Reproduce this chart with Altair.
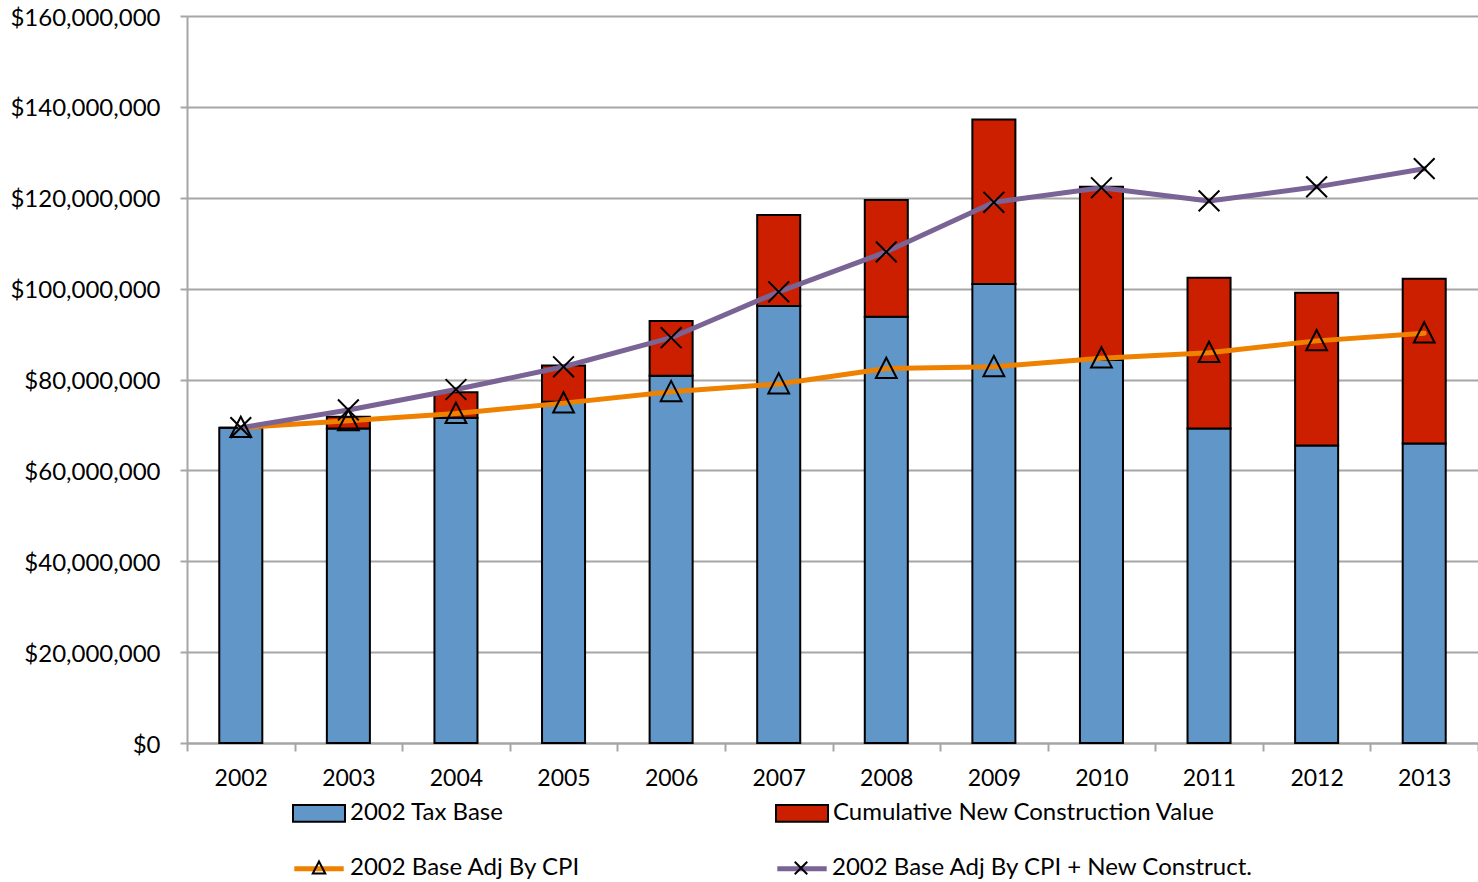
import altair as alt
import pandas as pd

# Fiscal years on the category axis
years = [str(y) for y in range(2002, 2014)]

# Stacked bar components (dollars)
tax_base = [69_400_000, 69_200_000, 71_600_000, 75_100_000, 80_800_000, 96_200_000,
            93_800_000, 101_000_000, 84_300_000, 69_200_000, 65_500_000, 65_900_000]
new_construction = [0, 2_600_000, 5_600_000, 8_000_000, 12_100_000, 20_000_000,
                    25_700_000, 36_200_000, 38_100_000, 33_200_000, 33_600_000, 36_300_000]

# Line series (dollars)
cpi_adjusted = [69_400_000, 70_900_000, 72_500_000, 74_800_000, 77_300_000, 79_000_000,
                82_400_000, 82_800_000, 84_700_000, 85_900_000, 88_500_000, 90_200_000]
cpi_plus_construction = [69_400_000, 73_300_000, 77_800_000, 82_800_000, 89_200_000, 99_300_000,
                         108_100_000, 119_000_000, 122_200_000, 119_300_000, 122_400_000, 126_400_000]

bar_names = ["2002 Tax Base", "Cumulative New Construction Value"]
line_names = ["2002 Base Adj By CPI", "2002 Base Adj By CPI + New Construct."]
marker_keys = ["cpi", "cpi_nc"]

bars = pd.DataFrame(
    [{"year": y, "series": bar_names[0], "value": b, "order": 0} for y, b in zip(years, tax_base)]
    + [{"year": y, "series": bar_names[1], "value": n, "order": 1} for y, n in zip(years, new_construction)]
)
lines = pd.DataFrame(
    [{"year": y, "line": line_names[0], "marker": marker_keys[0], "value": v} for y, v in zip(years, cpi_adjusted)]
    + [{"year": y, "line": line_names[1], "marker": marker_keys[1], "value": v} for y, v in zip(years, cpi_plus_construction)]
)

FONT = "Lato"
GRID = "#A6A6A6"
SYM = 2704        # legend symbol area -> 52 px wide
MARK_SYM = 973    # smaller markers inside the line legend

x_axis = alt.Axis(title=None, labelAngle=0, tickBand="extent", tickSize=8,
                  tickColor=GRID, tickWidth=2, domainColor=GRID, domainWidth=2,
                  labelPadding=16, grid=False)
y_axis = alt.Axis(title=None, format="$,.0f",
                  values=list(range(0, 160_000_001, 20_000_000)),
                  tickSize=7, tickColor=GRID, tickWidth=2,
                  domainColor=GRID, domainWidth=2,
                  gridColor=GRID, gridWidth=2, labelPadding=20, labelFontSize=24,
                  labelOffset=2)
x_scale = alt.Scale(paddingInner=0, paddingOuter=0)
y_scale = alt.Scale(domain=[0, 160_000_000], nice=False)

bar_layer = alt.Chart(bars).mark_bar(
    stroke="black", strokeWidth=2, width=alt.RelativeBandSize(0.4)
).encode(
    x=alt.X("year:O", scale=x_scale, axis=x_axis),
    y=alt.Y("value:Q", stack="zero", scale=y_scale, axis=y_axis),
    color=alt.Color(
        "series:N",
        scale=alt.Scale(domain=bar_names, range=["#6196C9", "#CC1F00"]),
        legend=alt.Legend(
            title=None, orient="none", legendX=105, legendY=770, direction="horizontal",
            columns=2, columnPadding=268, padding=0, labelLimit=800, labelOffset=4,
            symbolType="M-1,-0.32H1V0.32H-1Z", symbolSize=SYM,
            symbolStrokeColor="black", symbolStrokeWidth=2, symbolOpacity=1,
        ),
    ),
    order=alt.Order("order:Q"),
)

# Line legend: coloured strokes only (labels come from the marker legend on top)
line_layer = alt.Chart(lines).mark_line(strokeWidth=5, strokeCap="round", strokeJoin="round").encode(
    x="year:O",
    y="value:Q",
    stroke=alt.Stroke(
        "line:N",
        scale=alt.Scale(domain=line_names, range=["#EE8100", "#7A6395"]),
        legend=alt.Legend(
            title=None, orient="none", legendX=103.5, legendY=824, direction="horizontal",
            columns=2, columnPadding=412, padding=0, labelOffset=3,
            labelExpr="''",
            symbolType="M-0.95,0H0.95", symbolSize=SYM, symbolStrokeWidth=5,
        ),
    ),
)

# Markers: triangle for CPI series, X for CPI + construction
triangle = "M0,-0.42L0.4,0.36L-0.4,0.36Z"
cross_x = "M-0.4,-0.4L0.4,0.4M-0.4,0.4L0.4,-0.4"
marker_label = (
    f"datum.label == '{marker_keys[0]}' ? '{line_names[0]}' : '{line_names[1]}'"
)
point_layer = alt.Chart(lines).mark_point(
    filled=False, stroke="black", strokeWidth=2, size=SYM, opacity=1
).encode(
    x="year:O",
    y="value:Q",
    shape=alt.Shape(
        "marker:N",
        scale=alt.Scale(domain=marker_keys, range=[triangle, cross_x]),
        legend=alt.Legend(
            title=None, orient="none", legendX=115, legendY=835, direction="horizontal",
            columns=2, columnPadding=203, padding=0, labelLimit=800, labelOffset=14,
            labelExpr=marker_label,
            symbolSize=MARK_SYM, symbolStrokeWidth=2, symbolStrokeColor="black",
            symbolFillColor="transparent",
        ),
    ),
)

chart = (
    alt.layer(bar_layer, line_layer, point_layer)
    .properties(width=1291, height=727, autosize=alt.AutoSizeParams(type="none"),
                padding={"left": 187, "top": 16, "right": 0, "bottom": 139})
    .configure_view(stroke=None)
    .configure_axis(labelFont=FONT, labelFontSize=23, labelColor="black")
    .configure_legend(labelFont=FONT, labelFontSize=24, labelColor="black")
)

chart.save("out.html", embed_options={"renderer": "svg", "actions": False})
